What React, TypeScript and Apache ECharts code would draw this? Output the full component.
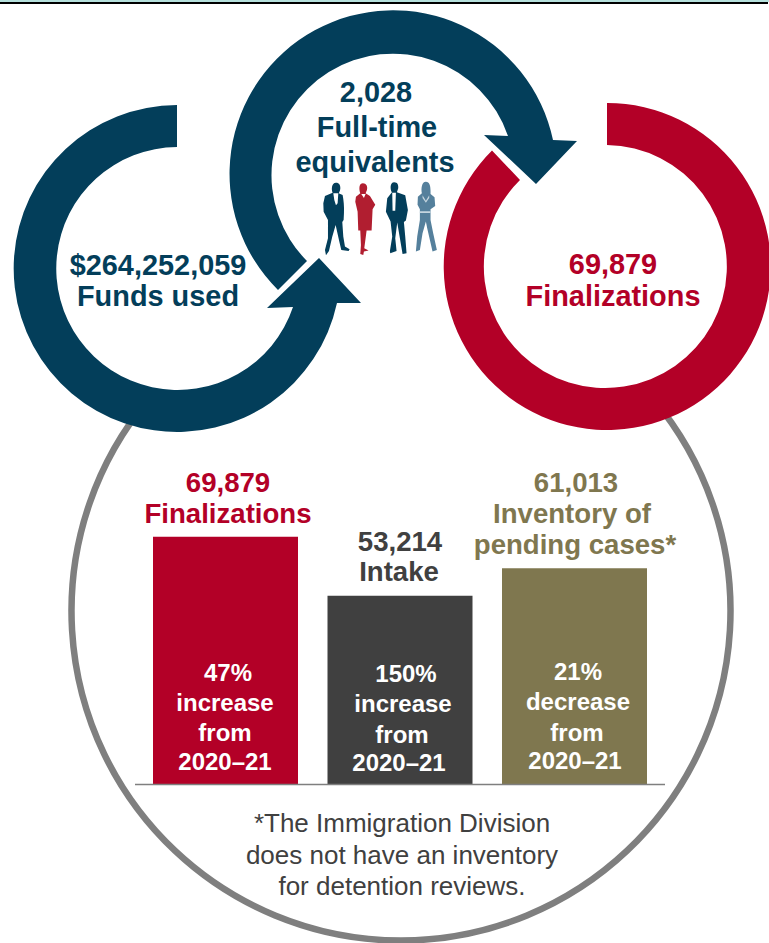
import React, { useEffect, useRef } from "react";
import * as echarts from "echarts";

const categories = ["Finalizations", "Intake", "Inventory of pending cases"];
const caseCounts = [69879, 53214, 61013];
const changeLines = [
  ["47%", "increase", "from", "2020–21"],
  ["150%", "increase", "from", "2020–21"],
  ["21%", "decrease", "from", "2020–21"],
];
const fundsUsed = 264252059;
const fullTimeEquivalents = 2028;
const footnoteLines = [
  "*The Immigration Division",
  "does not have an inventory",
  "for detention reviews.",
];

const NAVY = "#033e5a";
const RED = "#b30027";
const OLIVE = "#7f774f";
const CHARCOAL = "#404040";
const STEEL = "#55809c";
const STEEL_LIGHT = "#c5d5df";
const FIGURE_RED = "#b11e30";
const FONT = '"Liberation Sans", Arial, sans-serif';
const TOP_LAYER = 10;

const fmt = (n: number) => n.toLocaleString("en-US");

// Ring arrows, drawn as circular bands with arrowheads.
echarts.graphic.registerShape(
  "fundsArrow",
  echarts.graphic.extendPath(
    "M177,105 A163.5,163.5 0 1 0 337,303 L361,303 L319,258 L267,308 L293,307 A121.5,121.5 0 1 1 177,147 Z",
    {}
  )
);
echarts.graphic.registerShape(
  "staffArrow",
  echarts.graphic.extendPath(
    "M278,290 A163.5,163.5 0 1 1 553,140 L577,141 L536,184 L484,135 L508,136 A121.5,121.5 0 1 0 307,261 Z",
    {}
  )
);
echarts.graphic.registerShape(
  "outcomeRing",
  echarts.graphic.extendPath(
    "M607,103 A163.5,163.5 0 1 1 492,150.5 L520,180 A121.5,121.5 0 1 0 607,145 Z",
    {}
  )
);

// Staff silhouettes, in a 480x300 local box scaled down by three.
echarts.graphic.registerShape(
  "manLeft",
  echarts.graphic.extendPath(
    "M108,38 C118,38 122,46 121,56 C120,64 117,68 116,70 L128,75 C131,90 133,110 132,130 L131,150 L127,156 L130,200 L135,230 L149,238 L146,243 L124,240 L118,215 L107,165 L97,200 L87,243 L78,256 L75,240 L84,205 L84,150 L71,125 L70,100 L75,78 L98,68 C94,60 94,38 108,38 Z",
    {}
  )
);
echarts.graphic.registerShape(
  "womanRed",
  echarts.graphic.extendPath(
    "M189,40 C199,40 204,50 201,60 L197,70 L210,78 L226,104 L218,118 L215,182 L200,182 L197,205 L193,235 L206,242 L192,245 L190,255 L181,252 L183,225 L181,182 L175,182 L173,125 L166,95 L168,80 L181,70 C176,55 178,40 189,40 Z",
    {}
  )
);
echarts.graphic.registerShape(
  "manRight",
  echarts.graphic.extendPath(
    "M283,37 C293,37 296,46 295,55 L291,67 L316,76 L324,120 L318,152 L312,156 L316,200 L320,250 L308,252 L300,205 L292,158 L286,205 L290,243 L271,250 L270,243 L277,200 L272,155 L258,125 L262,85 L276,67 C271,60 269,37 283,37 Z",
    {}
  )
);
echarts.graphic.registerShape(
  "womanSteel",
  echarts.graphic.extendPath(
    "M378,35 C389,35 392,48 392,62 L392,72 L404,82 L406,108 L392,118 L392,150 L400,190 L411,240 L398,245 L382,175 L378,155 L368,190 L360,240 L348,245 L352,200 L360,150 L360,118 L353,104 L354,80 L366,70 C363,55 366,35 378,35 Z",
    {}
  )
);
// Shirt fronts and collars, laid over the silhouettes.
echarts.graphic.registerShape(
  "shirtFronts",
  echarts.graphic.extendPath(
    "M100,70 L115,70 L113,100 L108,106 L103,90 Z M277,68 L288,68 L286,122 L278,122 Z M184,72 L197,72 L192,84 Z",
    {}
  )
);
echarts.graphic.registerShape(
  "blouse",
  echarts.graphic.extendPath(
    "M368,76 L378,92 L388,76 L388,84 L378,98 L368,84 Z M360,124 L392,124 L392,129 L360,129 Z",
    {}
  )
);

const text = (
  content: string,
  x: number,
  y: number,
  fill: string,
  fontSize = 27.6,
  fontWeight: string | number = "bold"
) => ({
  type: "text",
  x,
  y,
  z: TOP_LAYER,
  silent: true,
  style: {
    text: content,
    fill,
    font: `${fontWeight} ${fontSize}px ${FONT}`,
    textAlign: "center",
    textVerticalAlign: "middle",
  },
});

const figure = (shape: string, fill: string) => ({
  type: shape,
  x: 300,
  y: 170,
  scaleX: 1 / 3,
  scaleY: 1 / 3,
  silent: true,
  style: { fill },
});

export default function App() {
  const ref = useRef<HTMLDivElement>(null);

  useEffect(() => {
    if (!ref.current) return;
    const chart = echarts.init(ref.current, undefined, { renderer: "svg" });
    const RING_SIZE = 28.9;
    const INNER_SIZE = 24;
    const NOTE_SIZE = 26;
    chart.setOption({
      animation: false,
      backgroundColor: "#ffffff",
      grid: { left: 138.25, width: 523.5, top: 501, height: 283 },
      xAxis: {
        type: "category",
        data: categories,
        axisLine: { show: false },
        axisTick: { show: false },
        axisLabel: { show: false },
      },
      yAxis: { type: "value", min: 0, max: 80000, show: false },
      series: [
        {
          type: "bar",
          barWidth: 145,
          silent: true,
          data: [
            { value: caseCounts[0], itemStyle: { color: RED } },
            { value: caseCounts[1], itemStyle: { color: CHARCOAL } },
            { value: caseCounts[2], itemStyle: { color: OLIVE } },
          ],
        },
      ],
      graphic: {
        elements: [
          // Page rule along the top edge
          { type: "rect", shape: { x: 0, y: 0, width: 769, height: 2 }, style: { fill: "#b5e0dc" } },
          { type: "rect", shape: { x: 0, y: 2, width: 768, height: 2 }, style: { fill: "#000000" } },

          // Grey arc joining the two lower rings around the bars
          {
            type: "arc",
            shape: {
              cx: 401,
              cy: 611,
              r: 329.5,
              startAngle: (-40 * Math.PI) / 180,
              endAngle: (220 * Math.PI) / 180,
              clockwise: true,
            },
            silent: true,
            style: { fill: "none", stroke: "#7f7f7f", lineWidth: 6.5 },
          },

          { type: "fundsArrow", silent: true, style: { fill: NAVY } },
          { type: "staffArrow", silent: true, style: { fill: NAVY } },
          { type: "outcomeRing", silent: true, style: { fill: RED } },

          figure("manLeft", NAVY),
          figure("womanRed", FIGURE_RED),
          figure("manRight", NAVY),
          figure("womanSteel", STEEL),
          figure("shirtFronts", "#ffffff"),
          figure("blouse", STEEL_LIGHT),

          // Ring captions
          text(`$${fmt(fundsUsed)}`, 158, 265, NAVY, RING_SIZE),
          text("Funds used", 158, 296, NAVY, RING_SIZE),
          text(fmt(fullTimeEquivalents), 376, 92, NAVY, RING_SIZE),
          text("Full-time", 377, 127, NAVY, RING_SIZE),
          text("equivalents", 375, 162, NAVY, RING_SIZE),
          text(fmt(caseCounts[0]), 613, 264, RED, RING_SIZE),
          text(categories[0], 613, 296, RED, RING_SIZE),

          // Headings above the bars
          text(fmt(caseCounts[0]), 228, 482, RED),
          text(categories[0], 228, 513, RED),
          text(fmt(caseCounts[1]), 400, 541, CHARCOAL),
          text(categories[1], 399, 571, CHARCOAL),
          text(fmt(caseCounts[2]), 576, 482, OLIVE),
          text("Inventory of", 572, 513, OLIVE),
          text("pending cases*", 575, 544, OLIVE),

          // Year-over-year change, inside each bar
          text(changeLines[0][0], 228, 672, "#ffffff", INNER_SIZE),
          text(changeLines[0][1], 225, 702, "#ffffff", INNER_SIZE),
          text(changeLines[0][2], 225, 732, "#ffffff", INNER_SIZE),
          text(changeLines[0][3], 225, 761, "#ffffff", INNER_SIZE),
          text(changeLines[1][0], 406, 673, "#ffffff", INNER_SIZE),
          text(changeLines[1][1], 403, 703, "#ffffff", INNER_SIZE),
          text(changeLines[1][2], 402, 734, "#ffffff", INNER_SIZE),
          text(changeLines[1][3], 399, 762, "#ffffff", INNER_SIZE),
          text(changeLines[2][0], 578, 671, "#ffffff", INNER_SIZE),
          text(changeLines[2][1], 578, 701, "#ffffff", INNER_SIZE),
          text(changeLines[2][2], 577, 732, "#ffffff", INNER_SIZE),
          text(changeLines[2][3], 575, 760, "#ffffff", INNER_SIZE),

          // Baseline under the bars
          {
            type: "line",
            z: TOP_LAYER,
            shape: { x1: 135, y1: 784.5, x2: 665, y2: 784.5 },
            silent: true,
            style: { stroke: "#7f7f7f", lineWidth: 1.5 },
          },

          // Footnote
          text(footnoteLines[0], 402, 823, CHARCOAL, NOTE_SIZE, "normal"),
          text(footnoteLines[1], 402, 855, CHARCOAL, NOTE_SIZE, "normal"),
          text(footnoteLines[2], 402, 886, CHARCOAL, NOTE_SIZE, "normal"),
        ],
      },
    });
    return () => chart.dispose();
  }, []);

  return (
    <div
      ref={ref}
      style={{ position: "absolute", left: 0, top: 0, width: 769, height: 943 }}
    />
  );
}
